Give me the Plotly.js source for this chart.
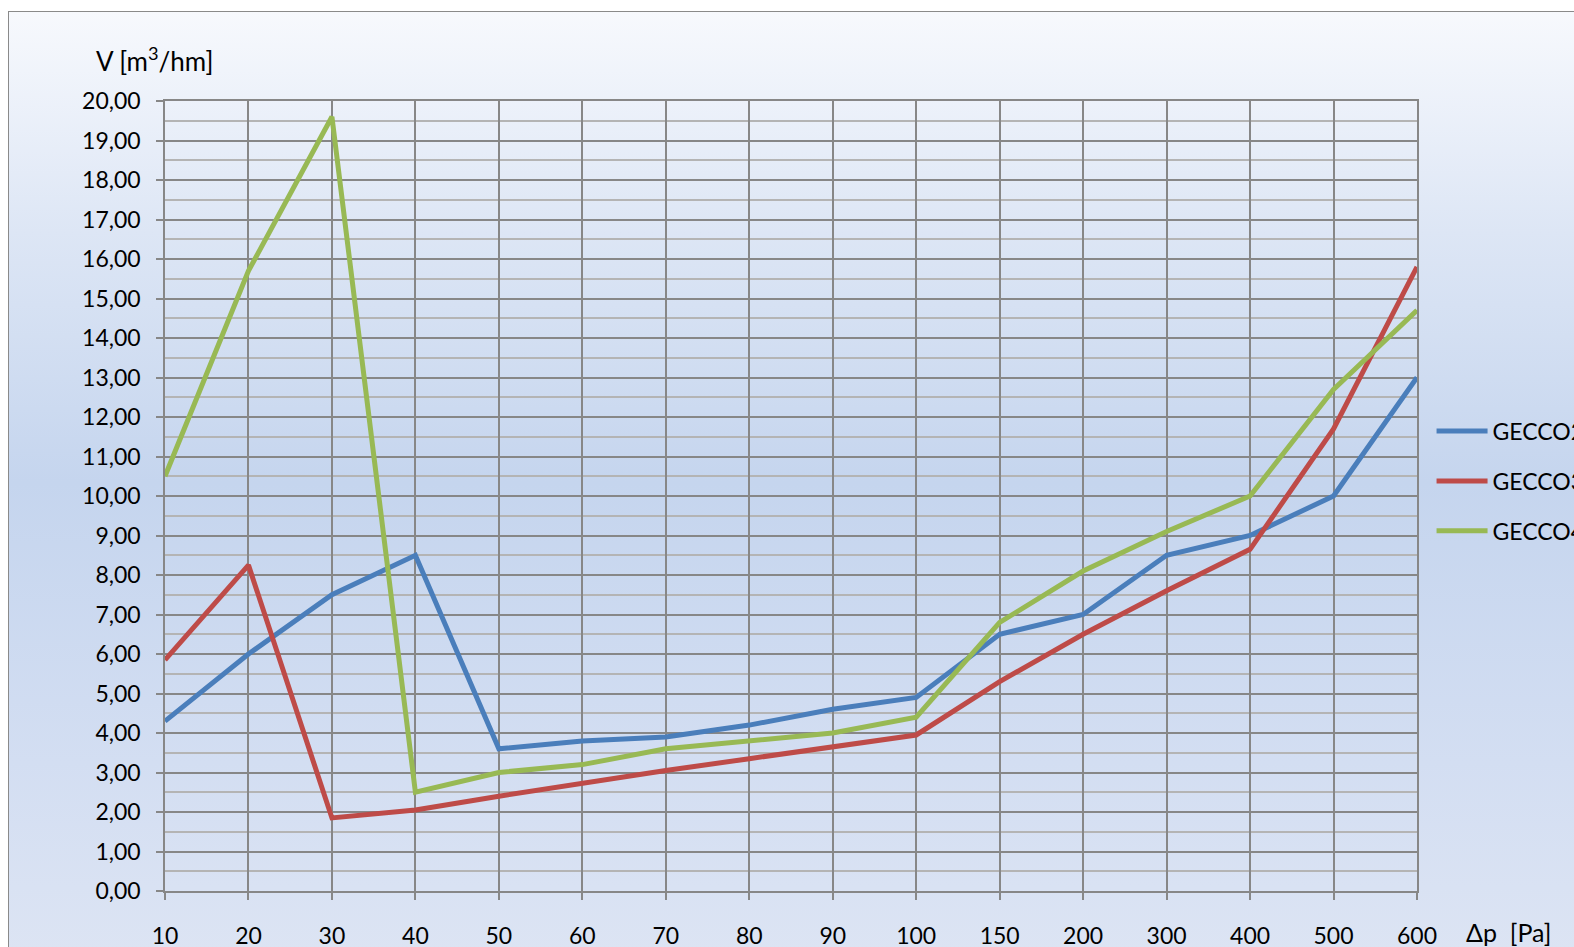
<!DOCTYPE html>
<html>
<head>
<meta charset="utf-8">
<script src="https://cdn.plot.ly/plotly-3.0.1.min.js"></script>
<style>
  html, body { margin: 0; padding: 0; width: 1574px; height: 947px; overflow: hidden; background: #ffffff; }
  #bg { position: absolute; left: 8px; top: 11px; width: 1620px; height: 1000px;
        border: 1.5px solid #8a8a8a;
        background: linear-gradient(to bottom, #f7f9fd 0%, #dde6f5 22%, #c5d5ee 47%, #d3def2 75%, #dfe6f4 100%); }
  #chart { position: absolute; left: 0; top: 0; width: 1574px; height: 947px; }
</style>
</head>
<body>
<div id="bg"></div>
<div id="chart"></div>
<script>
// Categories (Δp [Pa])
const categories = ["10","20","30","40","50","60","70","80","90","100","150","200","300","400","500","600"];

// Series names
const seriesNames = ["GECCO2", "GECCO3", "GECCO4"];

// Series values V [m3/hm]
const gecco2 = [4.30, 6.00, 7.50, 8.50, 3.60, 3.80, 3.90, 4.20, 4.60, 4.90, 6.50, 7.00, 8.50, 9.00, 10.00, 13.00];
const gecco3 = [5.85, 8.25, 1.85, 2.05, 2.40, 2.73, 3.05, 3.35, 3.65, 3.95, 5.30, 6.50, 7.60, 8.65, 11.70, 15.80];
const gecco4 = [10.50, 15.70, 19.60, 2.50, 3.00, 3.20, 3.60, 3.80, 4.00, 4.40, 6.80, 8.10, 9.10, 10.00, 12.70, 14.70];

const colors = ["#4a7ebb", "#be4b48", "#98b954"];
const allSeries = [gecco2, gecco3, gecco4];

const traces = allSeries.map((vals, i) => ({
  type: "scatter",
  mode: "lines",
  x: categories,
  y: vals,
  name: seriesNames[i],
  legendgroup: "g" + i,
  line: { color: colors[i], width: 5 },
  hoverinfo: "x+y+name"
}));

const FONT = "Lato, 'Open Sans', sans-serif";
const gridMajor = "#878787";

const layout = {
  width: 1574,
  height: 947,
  margin: { l: 165, r: 157, t: 101, b: 56, pad: 0 },
  paper_bgcolor: "rgba(0,0,0,0)",
  plot_bgcolor: "rgba(0,0,0,0)",
  separators: ",.",
  font: { family: FONT, size: 23, color: "#000000" },
  showlegend: true,
  xaxis: {
    type: "category",
    range: [0, 15],
    automargin: false,
    showgrid: true,
    gridcolor: gridMajor,
    gridwidth: 1.5,
    showline: true,
    linecolor: gridMajor,
    linewidth: 1.5,
    mirror: true,
    ticks: "outside",
    ticklen: 7,
    tickwidth: 1.5,
    tickcolor: gridMajor,
    ticklabelstandoff: 17,
    tickfont: { family: FONT, size: 23, color: "#000" },
    zeroline: false,
    fixedrange: true
  },
  yaxis: {
    range: [0, 20],
    dtick: 1,
    tick0: 0,
    tickformat: ".2f",
    automargin: false,
    showgrid: true,
    gridcolor: gridMajor,
    gridwidth: 1.5,
    showline: true,
    linecolor: gridMajor,
    linewidth: 1.5,
    mirror: true,
    ticks: "outside",
    ticklen: 7,
    tickwidth: 1.5,
    tickcolor: gridMajor,
    ticklabelstandoff: 11,
    tickfont: { family: FONT, size: 23, color: "#000" },
    minor: { dtick: 0.5, showgrid: true, gridcolor: "#b4b4b4", gridwidth: 1.5, ticks: "" },
    zeroline: false,
    fixedrange: true
  },
  legend: {
    xref: "container",
    yref: "container",
    x: 0.9095,
    y: 0.492,
    xanchor: "left",
    yanchor: "middle",
    bgcolor: "rgba(0,0,0,0)",
    borderwidth: 0,
    itemwidth: 51,
    traceorder: "grouped",
    tracegroupgap: 17,
    font: { family: FONT, size: 23, color: "#000" }
  },
  annotations: [
    {
      text: "V [m<sup>3</sup>/hm]",
      xref: "paper", yref: "paper",
      x: (94 - 165) / 1252, y: (891 - 60) / 790,
      xanchor: "left", yanchor: "middle",
      showarrow: false,
      font: { family: FONT, size: 26, color: "#000" }
    },
    {
      text: "Δp&nbsp;&nbsp;[Pa]",
      xref: "paper", yref: "paper",
      x: (1464 - 165) / 1252, y: (891 - 932) / 790,
      xanchor: "left", yanchor: "middle",
      showarrow: false,
      font: { family: FONT, size: 25, color: "#000" }
    }
  ]
};

Plotly.newPlot("chart", traces, layout, { displayModeBar: false, staticPlot: false });
</script>
</body>
</html>
